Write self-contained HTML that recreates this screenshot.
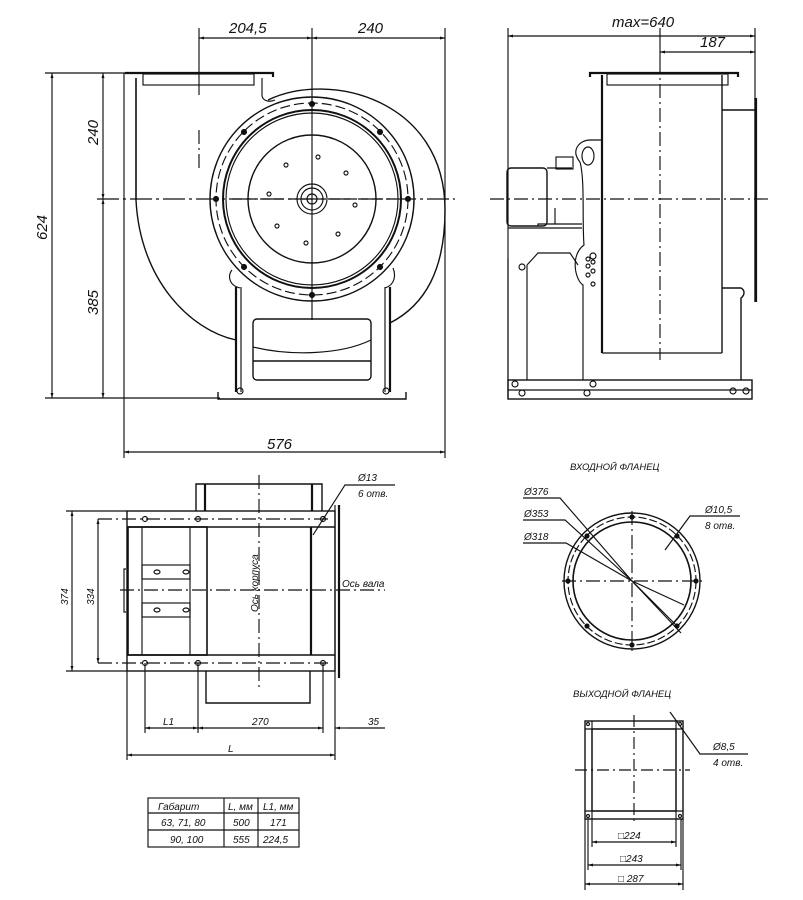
<!DOCTYPE html>
<html><head><meta charset="utf-8"><style>
html,body{margin:0;padding:0;background:#fff}
svg{display:block}
text{font-family:"Liberation Sans","DejaVu Sans",sans-serif;font-style:italic;fill:#111}
</style></head><body>
<svg width="803" height="900" viewBox="0 0 803 900" xmlns="http://www.w3.org/2000/svg">
<defs>
<marker id="a" viewBox="0 0 10 6" refX="10" refY="3" markerWidth="10" markerHeight="3" orient="auto-start-reverse" markerUnits="userSpaceOnUse"><path d="M0,0L10,3L0,6z" fill="#111"/></marker>
</defs>
<g stroke="#111" fill="none" stroke-width="1.15">
<!-- ===== Top-left view ===== -->
<line x1="199" y1="28" x2="199" y2="95"/>
<line x1="199" y1="130" x2="199" y2="170" stroke-dasharray="14,4,2,4"/>
<line x1="312" y1="28" x2="312" y2="320"/>
<line x1="445" y1="28" x2="445" y2="458"/>
<line x1="199" y1="38" x2="312" y2="38" marker-start="url(#a)" marker-end="url(#a)"/>
<line x1="312" y1="38" x2="445" y2="38" marker-start="url(#a)" marker-end="url(#a)"/>
<line x1="45" y1="73" x2="125" y2="73"/>
<line x1="45" y1="398" x2="220" y2="398"/>
<line x1="97" y1="199" x2="455" y2="199" stroke-dasharray="22,4,3,4"/>
<line x1="52" y1="73" x2="52" y2="398" marker-start="url(#a)" marker-end="url(#a)"/>
<line x1="103" y1="73" x2="103" y2="199" marker-start="url(#a)" marker-end="url(#a)"/>
<line x1="103" y1="199" x2="103" y2="398" marker-start="url(#a)" marker-end="url(#a)"/>
<line x1="124" y1="73" x2="124" y2="458"/>
<line x1="124" y1="452" x2="445" y2="452" marker-start="url(#a)" marker-end="url(#a)"/>
<line x1="136" y1="78" x2="136" y2="200" stroke-width="1.6"/>
<path d="M125,73 H273 V77" stroke-width="2.2"/>
<rect x="143" y="74" width="111" height="11"/>
<path d="M262,78 V95 C262,100 268,103 275,100"/>
<path d="M268,100 C330,70 445,100 445,210 C445,270 425,305 390,323" stroke-width="1.4"/>
<path d="M136,200 C140,280 190,330 236,340" stroke-width="1.4"/>
<circle cx="312" cy="199" r="102" stroke-width="1.4"/>
<circle cx="312" cy="199" r="96" stroke-dasharray="10,4"/>
<circle cx="312" cy="199" r="89" stroke-width="2"/>
<circle cx="312" cy="199" r="86"/>
<circle cx="312" cy="199" r="64" stroke-width="1.4"/>
<circle cx="312" cy="199" r="15"/>
<circle cx="312" cy="199" r="11"/>
<circle cx="312" cy="199" r="5"/>
<line x1="232" y1="199" x2="395" y2="199" stroke-dasharray="10,4"/>
<g fill="#111">
<circle cx="312" cy="104" r="2.5"/><circle cx="312" cy="295" r="2.5"/><circle cx="216" cy="199" r="2.5"/><circle cx="408" cy="199" r="2.5"/>
<circle cx="244" cy="132" r="2.5"/><circle cx="380" cy="132" r="2.5"/><circle cx="244" cy="267" r="2.5"/><circle cx="380" cy="267" r="2.5"/>
</g>
<g>
<circle cx="318" cy="157" r="2"/><circle cx="286" cy="165" r="2"/><circle cx="346" cy="173" r="2"/><circle cx="269" cy="194" r="2"/><circle cx="355" cy="205" r="2"/><circle cx="277" cy="226" r="2"/><circle cx="338" cy="234" r="2"/><circle cx="306" cy="243" r="2"/>
</g>
<path d="M240,288 C228,285 228,275 232,270 M385,288 C395,285 396,275 393,268"/>
<line x1="236" y1="287" x2="236" y2="392" stroke-width="2.2"/>
<line x1="241" y1="287" x2="241" y2="392"/>
<line x1="385" y1="287" x2="385" y2="392"/>
<line x1="390" y1="287" x2="390" y2="392" stroke-width="2.2"/>
<rect x="253" y="319" width="118" height="61" rx="4" stroke-width="1.4"/>
<path d="M253,347 C290,356 340,355 371,340"/>
<line x1="253" y1="361" x2="371" y2="361" stroke-width="1.4"/>
<path d="M218,392 V399 H406 V392" stroke-width="1.4"/>
<circle cx="240" cy="391" r="3"/><circle cx="386" cy="391" r="3"/>

<!-- ===== Top-right view ===== -->
<line x1="508" y1="28" x2="508" y2="398"/>
<line x1="755" y1="28" x2="755" y2="100"/>
<line x1="660" y1="28" x2="660" y2="60"/>
<line x1="508" y1="36" x2="755" y2="36" marker-start="url(#a)" marker-end="url(#a)"/>
<line x1="660" y1="52" x2="755" y2="52" marker-start="url(#a)" marker-end="url(#a)"/>
<line x1="660" y1="60" x2="660" y2="360" stroke-dasharray="14,4,2,4"/>
<line x1="490" y1="199" x2="770" y2="199" stroke-dasharray="14,4,2,4"/>
<path d="M590,77 V73 H738 V77" stroke-width="2.2"/>
<rect x="607" y="74" width="121" height="11"/>
<line x1="602" y1="75" x2="602" y2="353" stroke-width="2.2"/>
<line x1="722" y1="75" x2="722" y2="353" stroke-width="1.4"/>
<line x1="602" y1="353" x2="722" y2="353"/>
<path d="M722,110 H755 M755,98 V302 M722,288 H741 C745,290 745,295 741,298 V380" stroke-width="1.4"/>
<line x1="756" y1="98" x2="756" y2="302" stroke-width="2.2"/>
<rect x="507" y="168" width="40" height="58" rx="4" stroke-width="1.4"/>
<path d="M547,168 H572"/>
<rect x="556" y="157" width="17" height="12"/>
<path d="M538,226 V224 H582 M555,224 V208"/>
<path d="M580,162 C570,150 580,140 590,140 H602"/>
<path d="M580,162 C585,180 582,220 584,245 C570,255 575,280 583,285 V380" />
<ellipse cx="588" cy="156" rx="6" ry="9"/>
<path d="M508,228 H582 M508,258 V380 M527,265 V380 M527,265 L538,253 H570 L578,265"/>
<circle cx="522" cy="267" r="3"/>
<circle cx="593" cy="256" r="3"/><circle cx="588" cy="259" r="2"/><circle cx="593" cy="262" r="2"/><circle cx="588" cy="266" r="2"/><circle cx="593" cy="271" r="2"/><circle cx="588" cy="275" r="2"/><circle cx="593" cy="284" r="2"/>
<rect x="508" y="380" width="244" height="19" stroke-width="1.4"/>
<line x1="508" y1="390" x2="752" y2="390"/>
<circle cx="515" cy="384" r="3"/><circle cx="522" cy="393" r="3"/><circle cx="593" cy="384" r="3"/><circle cx="587" cy="393" r="3"/><circle cx="733" cy="391" r="3"/><circle cx="746" cy="391" r="3"/>

<!-- ===== Bottom-left view ===== -->
<rect x="127" y="511" width="208" height="160" stroke-width="1.4"/>
<line x1="127" y1="527" x2="335" y2="527" stroke-width="1.4"/>
<line x1="127" y1="655" x2="335" y2="655" stroke-width="1.4"/>
<path d="M196,511 V484 H322 V511" stroke-width="1.4"/>
<line x1="205" y1="484" x2="205" y2="511" stroke-width="2.2"/>
<line x1="312" y1="484" x2="312" y2="511" stroke-width="2.2"/>
<path d="M206,671 V703 H310 V671" stroke-width="1.4"/>
<rect x="128" y="527" width="79" height="128" stroke-width="1.6"/>
<line x1="142" y1="527" x2="142" y2="655"/>
<line x1="190" y1="527" x2="190" y2="655"/>
<rect x="142" y="565" width="48" height="14"/>
<rect x="142" y="603" width="48" height="14"/>
<ellipse cx="157" cy="572" rx="3" ry="2"/><ellipse cx="186" cy="572" rx="3" ry="2"/>
<ellipse cx="157" cy="610" rx="3" ry="2"/><ellipse cx="186" cy="610" rx="3" ry="2"/>
<path d="M126,569 H124 V612 H126"/>
<line x1="311" y1="527" x2="311" y2="655" stroke-width="2.2"/>
<line x1="335" y1="505" x2="335" y2="678"/>
<line x1="339" y1="505" x2="339" y2="678" stroke-width="2.2"/>
<line x1="98" y1="519" x2="330" y2="519" stroke-dasharray="14,4,2,4"/>
<line x1="98" y1="663" x2="330" y2="663" stroke-dasharray="14,4,2,4"/>
<line x1="66" y1="511" x2="127" y2="511"/>
<line x1="66" y1="671" x2="127" y2="671"/>
<line x1="72" y1="511" x2="72" y2="671" marker-start="url(#a)" marker-end="url(#a)"/>
<line x1="98" y1="519" x2="98" y2="663" marker-start="url(#a)" marker-end="url(#a)"/>
<circle cx="145" cy="519" r="2.5"/><circle cx="198" cy="519" r="2.5"/><circle cx="323" cy="519" r="2.5"/>
<circle cx="145" cy="663" r="2.5"/><circle cx="198" cy="663" r="2.5"/><circle cx="323" cy="663" r="2.5"/>
<line x1="259" y1="475" x2="259" y2="690" stroke-dasharray="14,4,2,4"/>
<line x1="120" y1="590" x2="385" y2="590" stroke-dasharray="14,4,2,4"/>
<path d="M395,485 H345 L313,535"/>
<line x1="145" y1="663" x2="145" y2="733"/>
<line x1="198" y1="663" x2="198" y2="733"/>
<line x1="323" y1="663" x2="323" y2="733"/>
<line x1="335" y1="678" x2="335" y2="760"/>
<line x1="127" y1="671" x2="127" y2="760"/>
<line x1="145" y1="728" x2="198" y2="728" marker-start="url(#a)" marker-end="url(#a)"/>
<line x1="198" y1="728" x2="323" y2="728" marker-start="url(#a)" marker-end="url(#a)"/>
<line x1="349" y1="728" x2="385" y2="728"/>
<line x1="349" y1="728" x2="335" y2="728" marker-end="url(#a)"/>
<line x1="127" y1="755" x2="335" y2="755" marker-start="url(#a)" marker-end="url(#a)"/>

<rect x="148" y="798" width="151" height="49"/>
<line x1="148" y1="813" x2="299" y2="813"/>
<line x1="148" y1="830" x2="299" y2="830"/>
<line x1="224" y1="798" x2="224" y2="847"/>
<line x1="258" y1="798" x2="258" y2="847"/>

<!-- ===== Inlet flange ===== -->
<circle cx="632" cy="581" r="68" stroke-width="1.4"/>
<circle cx="632" cy="581" r="64" stroke-dasharray="8,3"/>
<circle cx="632" cy="581" r="59" stroke-width="1.6"/>
<line x1="562" y1="581" x2="702" y2="581" stroke-dasharray="14,4,2,4"/>
<line x1="632" y1="511" x2="632" y2="651" stroke-dasharray="14,4,2,4"/>
<g fill="#111">
<circle cx="632" cy="517" r="2"/><circle cx="632" cy="645" r="2"/><circle cx="568" cy="581" r="2"/><circle cx="696" cy="581" r="2"/>
<circle cx="587" cy="536" r="2"/><circle cx="677" cy="536" r="2"/><circle cx="587" cy="626" r="2"/><circle cx="677" cy="626" r="2"/>
</g>
<path d="M523,498 H560 L632,581 L681,633"/>
<path d="M523,520 H565 L632,581 L678,627"/>
<path d="M523,543 H566 L632,581 L684,605"/>
<path d="M740,516 H690 L665,550"/>
<!-- ===== Outlet flange ===== -->
<rect x="585" y="721" width="98" height="98" stroke-width="1.4"/>
<rect x="592" y="729" width="84" height="82" stroke-width="1.4"/>
<line x1="585" y1="729" x2="683" y2="729"/>
<line x1="585" y1="811" x2="683" y2="811"/>
<line x1="592" y1="721" x2="592" y2="819"/>
<line x1="676" y1="721" x2="676" y2="819"/>
<circle cx="588" cy="724" r="1.5"/><circle cx="680" cy="724" r="1.5"/><circle cx="588" cy="816" r="1.5"/><circle cx="680" cy="816" r="1.5"/>
<line x1="634" y1="715" x2="634" y2="825" stroke-dasharray="12,4,2,4"/>
<line x1="575" y1="770" x2="690" y2="770" stroke-dasharray="12,4,2,4"/>
<path d="M748,754 H700 L670,712"/>
<line x1="585" y1="819" x2="585" y2="890"/>
<line x1="683" y1="819" x2="683" y2="890"/>
<line x1="588" y1="819" x2="588" y2="870"/>
<line x1="681" y1="819" x2="681" y2="870"/>
<line x1="592" y1="819" x2="592" y2="847"/>
<line x1="676" y1="819" x2="676" y2="847"/>
<line x1="592" y1="842" x2="676" y2="842" marker-start="url(#a)" marker-end="url(#a)"/>
<line x1="588" y1="865" x2="681" y2="865" marker-start="url(#a)" marker-end="url(#a)"/>
<line x1="585" y1="884" x2="683" y2="884" marker-start="url(#a)" marker-end="url(#a)"/>
</g>

<g font-size="15">
<text x="229" y="33">204,5</text>
<text x="358" y="33">240</text>
<text x="267" y="449">576</text>
<text x="612" y="27">max=640</text>
<text x="700" y="47">187</text>
<text transform="translate(47,240) rotate(-90)">624</text>
<text transform="translate(98,145) rotate(-90)">240</text>
<text transform="translate(98,315) rotate(-90)">385</text>
</g>
<g font-size="10">
<text transform="translate(68,605) rotate(-90)">374</text>
<text transform="translate(94,605) rotate(-90)">334</text>
<text transform="translate(258,612) rotate(-90)">Ось корпуса</text>
<text x="342" y="587">Ось вала</text>
<text x="358" y="481">Ø13</text>
<text x="358" y="497">6 отв.</text>
<text x="163" y="725">L1</text>
<text x="252" y="725">270</text>
<text x="368" y="725">35</text>
<text x="228" y="752">L</text>
<text x="158" y="810">Габарит</text>
<text x="228" y="810">L, мм</text>
<text x="263" y="810">L1, мм</text>
<text x="161" y="826">63, 71, 80</text>
<text x="233" y="826">500</text>
<text x="270" y="826">171</text>
<text x="170" y="843">90, 100</text>
<text x="233" y="843">555</text>
<text x="263" y="843">224,5</text>
<text x="570" y="470" font-size="9.5">ВХОДНОЙ ФЛАНЕЦ</text>
<text x="524" y="495">Ø376</text>
<text x="524" y="517">Ø353</text>
<text x="524" y="540">Ø318</text>
<text x="705" y="513">Ø10,5</text>
<text x="705" y="529">8 отв.</text>
<text x="573" y="697" font-size="9.5">ВЫХОДНОЙ ФЛАНЕЦ</text>
<text x="713" y="750">Ø8,5</text>
<text x="713" y="766">4 отв.</text>
<text x="618" y="839">□224</text>
<text x="620" y="862">□243</text>
<text x="618" y="882">□ 287</text>
</g>
</svg>
</body></html>
